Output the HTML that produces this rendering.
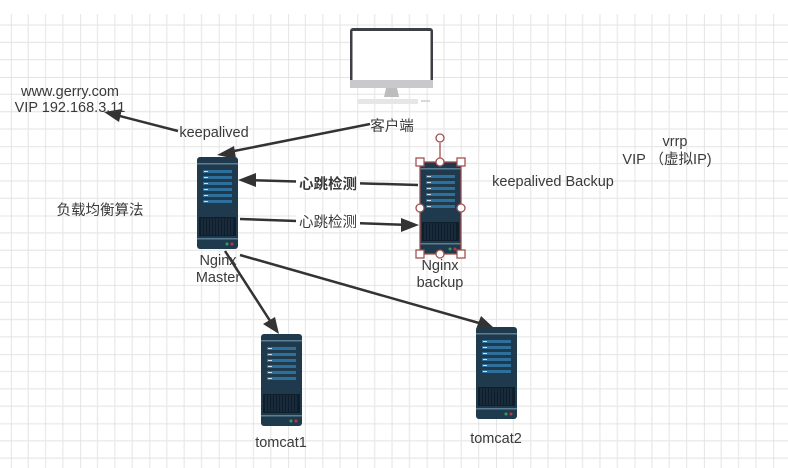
<!DOCTYPE html>
<html><head><meta charset="utf-8"><style>
html,body{margin:0;padding:0;background:#fff;}
svg{display:block;}
text{font-family:"Liberation Sans","Noto Sans CJK SC",sans-serif;fill:#3a3a3a;}
</style></head><body>
<svg width="788" height="468" viewBox="0 0 788 468" xmlns="http://www.w3.org/2000/svg">
<defs>
<pattern id="g" patternUnits="userSpaceOnUse" x="10.9" y="7.7" width="69.3" height="69.3">
<path d="M0 0V69.3M17.3 0V69.3M34.65 0V69.3M52 0V69.3M0 0H69.3M0 17.3H69.3M0 34.65H69.3M0 52H69.3" stroke="#e8e8e8" stroke-width="1.2" fill="none"/>
<path d="M0 0V69.3M0 0H69.3" stroke="#dedede" stroke-width="1.5" fill="none"/>
</pattern>
<g id="srv">
<rect x="0" y="0" width="41" height="92" rx="3" fill="#1f3a4d"/>
<rect x="0" y="6" width="41" height="1.5" fill="#5d7d93"/>
<rect x="6" y="13" width="29" height="3" fill="#2f6f9c"/>
<rect x="6" y="19" width="29" height="3" fill="#2f6f9c"/>
<rect x="6" y="25" width="29" height="3" fill="#2f6f9c"/>
<rect x="6" y="31" width="29" height="3" fill="#2f6f9c"/>
<rect x="6" y="37" width="29" height="3" fill="#2f6f9c"/>
<rect x="6" y="43" width="29" height="3" fill="#2f6f9c"/>
<path d="M7 14.5h4M7 20.5h4M7 26.5h4M7 32.5h4M7 38.5h4M7 44.5h4" stroke="#cfe0ea" stroke-width="1"/>
<rect x="2" y="60" width="37" height="19" fill="#0e1e2a"/>
<path d="M5 61V78M8 61V78M11 61V78M14 61V78M17 61V78M20 61V78M23 61V78M26 61V78M29 61V78M32 61V78M35 61V78" stroke="#24384a" stroke-width="1"/>
<rect x="0" y="81" width="41" height="1.5" fill="#5d7d93"/>
<circle cx="30" cy="87" r="1.5" fill="#3c9a5f"/>
<circle cx="35" cy="87" r="1.5" fill="#c0344a"/>
</g>
</defs>
<rect x="0" y="14" width="788" height="454" fill="url(#g)"/>

<!-- monitor -->
<rect x="350" y="28" width="83" height="60" rx="3" fill="#3c3f46"/>
<rect x="352.5" y="31" width="78" height="49" fill="#fff"/>
<rect x="350" y="80" width="83" height="8" fill="#c9c9cb"/>
<path d="M386 88h11l2 9h-15z" fill="#bdbdbd"/>
<rect x="358" y="99" width="60" height="5" fill="#e6e6e6"/>
<rect x="421" y="100" width="9" height="2" fill="#d8d8d8"/>

<!-- lines -->
<g stroke="#333" stroke-width="2.5" fill="none">
<line x1="178" y1="131" x2="112" y2="114"/>
<line x1="370" y1="124" x2="224" y2="153"/>
<line x1="418" y1="185" x2="246" y2="180"/>
<line x1="240" y1="219" x2="410" y2="225"/>
<line x1="225" y1="251" x2="274" y2="327"/>
<line x1="240" y1="255" x2="486" y2="325"/>
</g>
<g fill="#333">
<polygon points="104,112 122,109 119,122"/>
<polygon points="217,155 234,146 236,159"/>
<polygon points="238,180 256,173 256,187"/>
<polygon points="419,225 401,232 401,218"/>
<polygon points="279,334 263,324 275,317"/>
<polygon points="494,328 476,329 481,316"/>
</g>

<use href="#srv" x="197" y="157"/>
<use href="#srv" x="420" y="162"/>
<use href="#srv" x="261" y="334"/>
<use href="#srv" x="476" y="327"/>

<!-- selection -->
<g stroke="#a05050" fill="#fff" stroke-width="1.3">
<rect x="420" y="162" width="41" height="92" fill="none"/>
<line x1="440" y1="143" x2="440" y2="162"/>
<circle cx="440" cy="138" r="4"/>
<circle cx="440" cy="162" r="4"/>
<circle cx="420" cy="208" r="4"/>
<circle cx="461" cy="208" r="4"/>
<circle cx="440" cy="254" r="4"/>
<rect x="416" y="158" width="8" height="8"/>
<rect x="457" y="158" width="8" height="8"/>
<rect x="416" y="250" width="8" height="8"/>
<rect x="457" y="250" width="8" height="8"/>
</g>

<g font-size="14.5">
<rect x="296" y="175" width="64" height="17" fill="#fff"/>
<text x="328" y="189" text-anchor="middle" font-weight="bold">心跳检测</text>
<rect x="296" y="213" width="64" height="17" fill="#fff"/>
<text x="328" y="227" text-anchor="middle">心跳检测</text>
<text x="70" y="96" text-anchor="middle">www.gerry.com</text>
<text x="70" y="112" text-anchor="middle">VIP 192.168.3.11</text>
<text x="214" y="137" text-anchor="middle">keepalived</text>
<text x="392" y="131" text-anchor="middle">客户端</text>
<text x="100" y="215" text-anchor="middle">负载均衡算法</text>
<text x="218" y="265" text-anchor="middle">Nginx</text>
<text x="218" y="282" text-anchor="middle">Master</text>
<text x="440" y="270" text-anchor="middle">Nginx</text>
<text x="440" y="287" text-anchor="middle">backup</text>
<text x="553" y="186" text-anchor="middle">keepalived Backup</text>
<text x="675" y="146" text-anchor="middle">vrrp</text>
<text x="667" y="164" text-anchor="middle">VIP （虚拟IP)</text>
<text x="281" y="447" text-anchor="middle">tomcat1</text>
<text x="496" y="443" text-anchor="middle">tomcat2</text>
</g>
</svg>
</body></html>
